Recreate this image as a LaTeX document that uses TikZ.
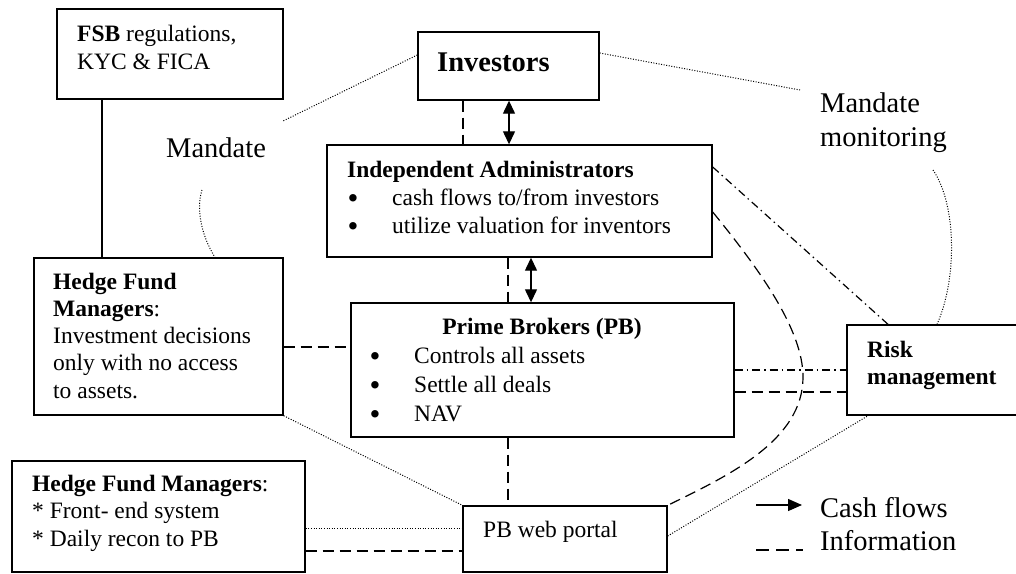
\documentclass[tikz,border=0pt]{standalone}
\usepackage{fontspec}
\setmainfont{Liberation Serif}
\usetikzlibrary{arrows.meta}
\begin{document}
\begin{tikzpicture}[x=1pt,y=-1pt,
  box/.style={draw,line width=1.4pt,inner sep=0pt},
  t/.style={anchor=base west,inner sep=0pt,font=\fontsize{23.5}{27}\selectfont},
  tb/.style={anchor=base west,inner sep=0pt,font=\fontsize{23.5}{27}\selectfont\bfseries},
  bul/.style={anchor=base,inner sep=0pt,font=\fontsize{31}{31}\selectfont},
  big/.style={anchor=base west,inner sep=0pt,font=\fontsize{28.5}{33}\selectfont},
  bigb/.style={anchor=base west,inner sep=0pt,font=\fontsize{28.5}{33}\selectfont\bfseries},
  info/.style={line width=1.2pt,dash pattern=on 11pt off 6pt},
  dot/.style={line width=1pt,dash pattern=on 1pt off 1.6pt},
  dashdot/.style={line width=1.2pt,dash pattern=on 8pt off 4pt on 1.5pt off 4pt},
  plain/.style={line width=1.3pt},
  cash/.style={line width=1.3pt,{Triangle[length=13pt,width=12pt]}-{Triangle[length=13pt,width=12pt]}}]
\useasboundingbox (0,0) rectangle (1016,573);
\fill[white] (0,0) rectangle (1016,573);
\clip (0,0) rectangle (1016,573);

% boxes
\node[box,minimum width=226pt,minimum height=90pt] (fsb) at (170,54) {};
\node[box,minimum width=181pt,minimum height=68pt] (inv) at (508.5,66) {};
\node[box,minimum width=385pt,minimum height=112pt] (adm) at (519.5,201) {};
\node[box,minimum width=249pt,minimum height=157pt] (hfm) at (158.5,336.5) {};
\node[box,minimum width=383pt,minimum height=134pt] (pb) at (542.5,370) {};
\node[box,minimum width=183pt,minimum height=90pt] (risk) at (938.5,370) {};
\node[box,minimum width=293pt,minimum height=111pt] (hfmb) at (158.5,516.5) {};
\node[box,minimum width=204pt,minimum height=66pt] (portal) at (565,539) {};

% texts
\node[t] (fsb1) at (77,41) {\textbf{FSB} regulations,};
\node[t] (fsb2) at (77,69) {KYC \& FICA};
\node[bigb] (inv1) at (437,71) {Investors};
\node[tb] (adm0) at (347,177) {Independent Administrators};
\node[bul] (admb1) at (353,208) {•};
\node[t] (adm1) at (392,205) {cash flows to/from investors};
\node[bul] (admb2) at (353,236) {•};
\node[t] (adm2) at (392,233) {utilize valuation for inventors};
\node[tb] (hfm1) at (53,289) {Hedge Fund};
\node[t] (hfm2) at (53,316) {\textbf{Managers}:};
\node[t] (hfm3) at (53,343) {Investment decisions};
\node[t] (hfm4) at (53,370) {only with no access};
\node[t] (hfm5) at (53,398) {to assets.};
\node[tb,anchor=base] (pb0) at (542,334) {Prime Brokers (PB)};
\node[bul] (pbb1) at (375,366) {•};
\node[t] (pb1) at (414,363) {Controls all assets};
\node[bul] (pbb2) at (375,395) {•};
\node[t] (pb2) at (414,392) {Settle all deals};
\node[bul] (pbb3) at (375,424) {•};
\node[t] (pb3) at (414,421) {NAV};
\node[tb] (risk1) at (867,357) {Risk};
\node[tb] (risk2) at (867,384) {management};
\node[t] (hb1) at (32,491) {\textbf{Hedge Fund Managers}:};
\node[t] (hb2) at (32,518) {* Front- end system};
\node[t] (hb3) at (32,546) {* Daily recon to PB};
\node[t] (port1) at (483,537) {PB web portal};
\node[big] (mandL) at (166,157) {Mandate};
\node[big] (mandR1) at (820,112) {Mandate};
\node[big] (mandR2) at (820,146) {monitoring};
\node[big] (leg1) at (820,517) {Cash flows};
\node[big] (leg2) at (820,550) {Information};

% free ends
\coordinate (mlA) at (283,121);
\coordinate (mlB) at (202,190);
\coordinate (mrA) at (800,90);
\coordinate (mrB) at (933,170);
\coordinate (lgA) at (756,505);
\coordinate (lgB) at (802,505);
\coordinate (lgC) at (756,550);
\coordinate (lgD) at (803,550);

% connectors
\draw[plain] (fsb.south -| 102,0) -- (hfm.north -| 102,0);
\draw[dot] (inv.west |- 0,55) -- (mlA);
\draw[dot] (mlB) .. controls (197,205) and (199,232) .. (hfm.north -| 215,0);
\draw[dot] (inv.east |- 0,53) -- (mrA);
\draw[dot] (mrB) .. controls (957,205) and (957,280) .. (risk.north -| 937,0);
\draw[dashdot] (adm.east |- 0,167) -- (risk.north -| 888,0);
\draw[info] (adm.east |- 0,212) .. controls (760,270) and (803,330) .. (803,377) .. controls (803,440) and (730,475) .. (portal.north east);
\draw[dashdot] (pb.east |- 0,370) -- (risk.west |- 0,370);
\draw[info] (pb.east |- 0,392) -- (risk.west |- 0,392);
\draw[dot] (portal.east |- 0,536) -- (risk.south -| 868,0);
\draw[dot] (hfm.south east) -- (portal.north west);
\draw[dot] (hfmb.east |- 0,528) -- (portal.west |- 0,528);
\draw[info] (hfmb.east |- 0,551) -- (portal.west |- 0,551);
\draw[info] (pb.south -| 508,0) -- (portal.north -| 508,0);
\draw[info] (hfm.east |- 0,347) -- (pb.west |- 0,347);
\draw[info] (inv.south -| 463,0) -- (adm.north -| 463,0);
\draw[cash] (inv.south -| 509,0) -- (adm.north -| 509,0);
\draw[info] (adm.south -| 508,0) -- (pb.north -| 508,0);
\draw[cash] (adm.south -| 531,0) -- (pb.north -| 531,0);

% legend
\draw[line width=1.3pt,-{Triangle[length=14pt,width=12pt]}] (lgA) -- (lgB);
\draw[line width=1.3pt,dash pattern=on 13pt off 7pt] (lgC) -- (lgD);
\end{tikzpicture}
\end{document}
